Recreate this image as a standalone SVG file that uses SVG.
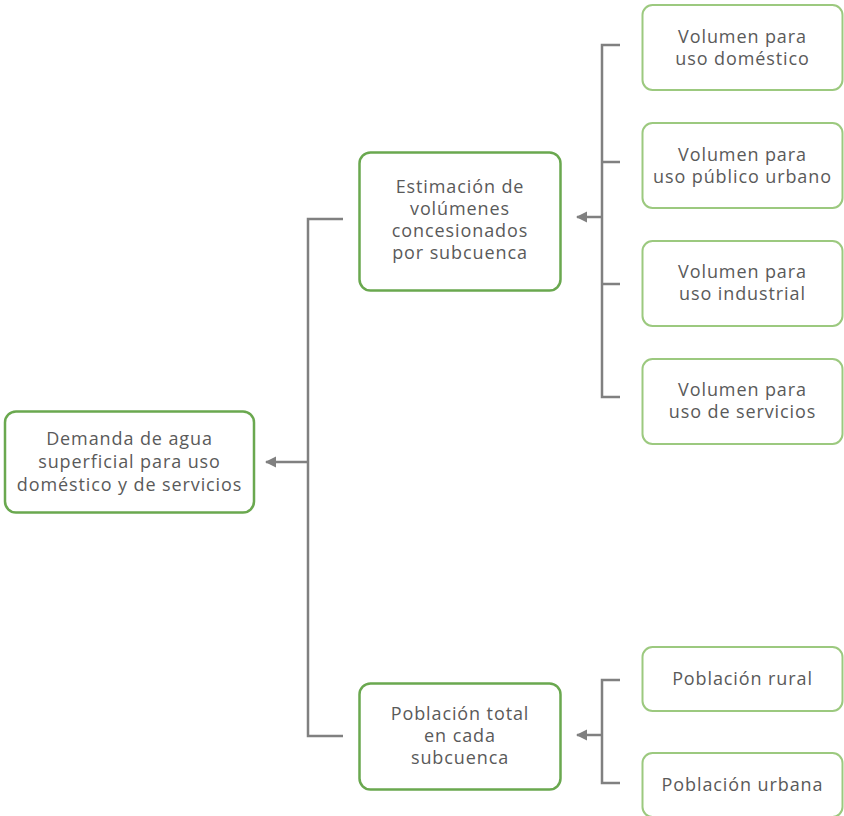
<svg xmlns="http://www.w3.org/2000/svg" width="844" height="816" viewBox="0 0 844 816">
<style>
.main{fill:#fff;stroke:#6aa84f;stroke-width:2.5}
.leaf{fill:#fff;stroke:#9cc97f;stroke-width:2}
.t{font-family:"Open Sans","Noto Sans",sans-serif;font-size:18px;fill:#5a5a5a;text-anchor:middle;letter-spacing:0.9px}
.c{fill:none;stroke:#808080;stroke-width:2.5}
</style>
<defs>
<marker id="ah" viewBox="0 0 10 10" refX="9" refY="5" markerWidth="4.5" markerHeight="4.5" orient="auto" markerUnits="strokeWidth">
<path d="M0,0 L10,5 L0,10 z" fill="#808080"/>
</marker>
</defs>
<g id="connectors">
<path class="c" d="M343,219 H308 V736 H343"/>
<path class="c" d="M308,462 H266" marker-end="url(#ah)"/>
<path class="c" d="M620,45 H602 V397 H620 M602,162 H620 M602,284 H620"/>
<path class="c" d="M602,217 H577" marker-end="url(#ah)"/>
<path class="c" d="M620,680 H602 V783 H620"/>
<path class="c" d="M602,735 H577" marker-end="url(#ah)"/>
</g>
<g id="demanda">
<rect class="main" x="5" y="411.5" width="249" height="101" rx="11"/>
<text class="t" x="129.5" y="445">Demanda de agua</text>
<text class="t" x="129.5" y="468">superficial para uso</text>
<text class="t" x="129.5" y="491">doméstico y de servicios</text>
</g>
<g id="estimacion">
<rect class="main" x="359.5" y="152.5" width="201" height="138" rx="11"/>
<text class="t" x="460" y="193">Estimación de</text>
<text class="t" x="460" y="215">volúmenes</text>
<text class="t" x="460" y="237">concesionados</text>
<text class="t" x="460" y="259">por subcuenca</text>
</g>
<g id="poblacion-total">
<rect class="main" x="359.5" y="683.5" width="201" height="106" rx="11"/>
<text class="t" x="460" y="720">Población total</text>
<text class="t" x="460" y="742">en cada</text>
<text class="t" x="460" y="764">subcuenca</text>
</g>
<g id="vol-domestico">
<rect class="leaf" x="642.5" y="5" width="200" height="85" rx="10"/>
<text class="t" x="742.5" y="43">Volumen para</text>
<text class="t" x="742.5" y="65">uso doméstico</text>
</g>
<g id="vol-publico">
<rect class="leaf" x="642.5" y="123" width="200" height="85" rx="10"/>
<text class="t" x="742.5" y="161">Volumen para</text>
<text class="t" x="742.5" y="183">uso público urbano</text>
</g>
<g id="vol-industrial">
<rect class="leaf" x="642.5" y="241" width="200" height="85" rx="10"/>
<text class="t" x="742.5" y="278">Volumen para</text>
<text class="t" x="742.5" y="300">uso industrial</text>
</g>
<g id="vol-servicios">
<rect class="leaf" x="642.5" y="359" width="200" height="85" rx="10"/>
<text class="t" x="742.5" y="396">Volumen para</text>
<text class="t" x="742.5" y="418">uso de servicios</text>
</g>
<g id="pob-rural">
<rect class="leaf" x="642.5" y="647" width="200" height="64" rx="10"/>
<text class="t" x="742.5" y="685">Población rural</text>
</g>
<g id="pob-urbana">
<rect class="leaf" x="642.5" y="753" width="200" height="64" rx="10"/>
<text class="t" x="742.5" y="791">Población urbana</text>
</g>
</svg>
